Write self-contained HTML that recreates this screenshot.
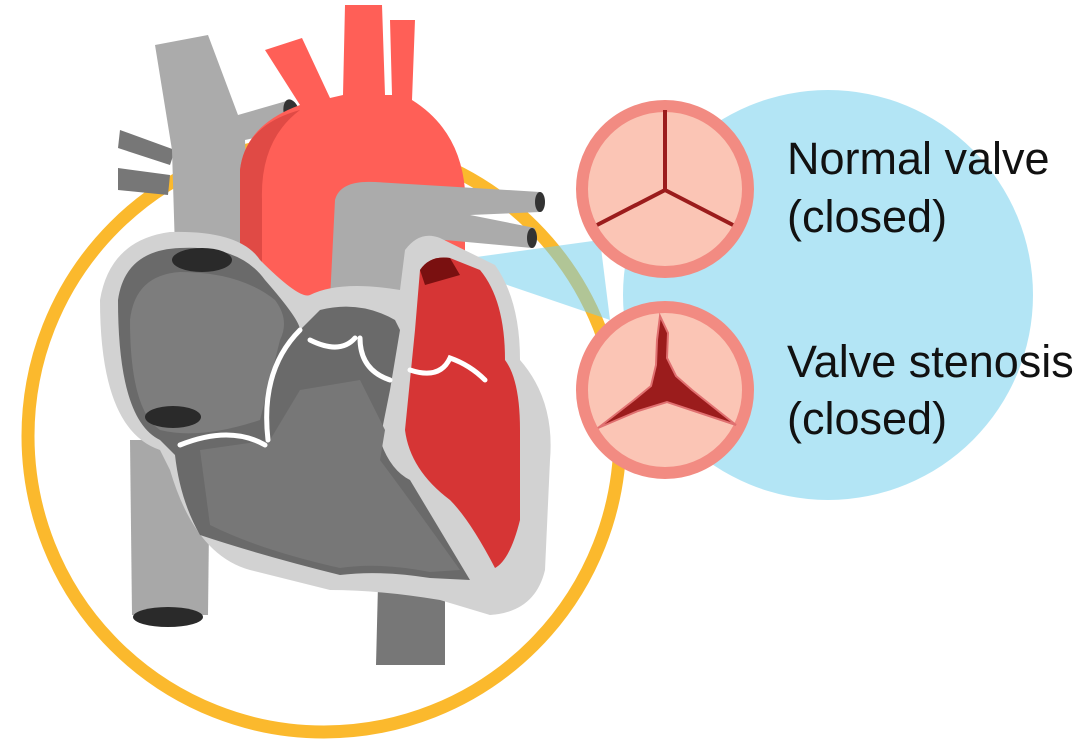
<!DOCTYPE html>
<html><head><meta charset="utf-8"><style>
html,body{margin:0;padding:0;background:#fff;}
svg{display:block}
text{font-family:"Liberation Sans",sans-serif;font-size:45px;fill:#111}
</style></head><body>
<svg width="1079" height="751" viewBox="0 0 1079 751" xmlns="http://www.w3.org/2000/svg">
<circle cx="324" cy="436" r="296" fill="none" stroke="#FBB92D" stroke-width="13"/>
<g fill="rgb(117,208,237)" fill-opacity="0.55">
<circle cx="828" cy="295" r="205"/>
<path d="M440 262 L600 240 L610 320 Z"/>
</g>
<path d="M130 440 L210 440 L208 615 L132 615 Z" fill="#A8A8A8"/>
<ellipse cx="168" cy="617" rx="35" ry="10" fill="#2a2a2a"/>
<path d="M378 585 L445 585 L445 665 L376 665 Z" fill="#777"/>
<path d="M120 130 L175 150 L170 165 L118 148 Z" fill="#777"/>
<path d="M118 168 L170 175 L168 195 L118 190 Z" fill="#777"/>
<path d="M155 45 L208 35 L238 115 L290 100 L298 128 L245 140 L250 250 L175 250 L172 150 Z" fill="#ABABAB"/>
<ellipse cx="292" cy="114" rx="8" ry="15" fill="#333" transform="rotate(-15 292 114)"/>
<path d="M265 50 L302 38 L330 98 L343 95 L345 5 L382 5 L385 95 L392 95 L390 20 L415 20 L412 100 Q460 130 465 190 L465 300 L240 300 L240 170 Q245 125 300 105 Z" fill="#FF5F57"/>
<path d="M240 170 Q245 125 300 110 Q260 140 262 200 L262 300 L240 300 Z" fill="#E04A45"/>
<path d="M335 200 Q340 180 375 182 L540 192 L540 212 L470 215 L535 228 L532 248 L445 240 L420 300 L330 300 Z" fill="#ABABAB"/>
<ellipse cx="540" cy="202" rx="5" ry="10" fill="#333"/>
<ellipse cx="532" cy="238" rx="5" ry="10" fill="#333"/>
<path d="M100 300 Q110 240 170 232 Q240 230 260 260 Q300 300 310 295 Q340 280 400 290 L405 250 Q420 230 440 238 L495 265 Q520 300 520 360 Q555 400 550 460 L545 570 Q535 612 490 615 L440 600 Q380 590 330 590 L250 570 Q195 555 170 470 L160 450 Q100 430 100 300 Z" fill="#D2D2D2"/>
<path d="M118 300 Q125 250 180 248 Q240 245 265 280 Q300 320 300 330 L320 310 Q360 300 395 320 L400 330 L390 390 L380 440 Q390 470 410 480 L470 580 L430 578 Q380 570 340 575 Q260 555 200 535 Q180 500 175 455 L160 440 Q118 420 118 300 Z" fill="#6A6A6A"/>
<path d="M130 320 Q135 275 180 272 Q240 272 275 300 Q290 320 280 340 L260 420 Q200 440 160 430 Q130 410 130 320 Z" fill="#7D7D7D"/>
<path d="M200 450 L270 440 L300 390 L360 380 L385 430 L380 460 Q410 500 460 570 L430 572 Q380 562 340 568 Q260 550 210 525 Z" fill="#777"/>
<ellipse cx="202" cy="260" rx="30" ry="12" fill="#2a2a2a"/>
<ellipse cx="173" cy="417" rx="28" ry="11" fill="#2a2a2a"/>
<path d="M420 270 Q430 255 450 258 L480 270 Q505 300 505 360 Q520 380 520 430 L520 520 Q510 560 495 568 Q470 520 450 500 Q410 470 405 430 L410 380 L415 330 Z" fill="#D63535"/>
<path d="M420 270 Q430 255 450 258 L460 275 L425 285 Z" fill="#7a1010"/>
<g fill="none" stroke="#fff" stroke-width="5" stroke-linecap="round">
<path d="M300 330 Q260 370 268 440"/>
<path d="M180 445 Q230 425 265 445"/>
<path d="M310 340 Q340 355 355 338"/>
<path d="M360 338 Q360 370 390 380"/>
<path d="M410 370 Q440 380 450 358 Q470 365 485 380"/>
</g>
<circle cx="665" cy="189" r="83" fill="#FBC5B5" stroke="#F28B82" stroke-width="12"/>
<path d="M665 110 L665 190 L597 225 M665 190 L733 225" stroke="#9B1C1C" stroke-width="4" fill="none"/>
<circle cx="665" cy="390" r="83" fill="#FBC5B5" stroke="#F28B82" stroke-width="12"/>
<path d="M660 316 L668 333 L667 358 L676 376 L692 390 L736 425 L700 413 L667 402 L638 411 L598 428 L634 400 L651 386 L656 365 L657 340 Z" fill="#9B1C1C" stroke="#E07070" stroke-width="2"/>
<text x="787" y="174">Normal valve</text>
<text x="787" y="232">(closed)</text>
<text x="787" y="377">Valve stenosis</text>
<text x="787" y="434">(closed)</text>
</svg>
</body></html>
